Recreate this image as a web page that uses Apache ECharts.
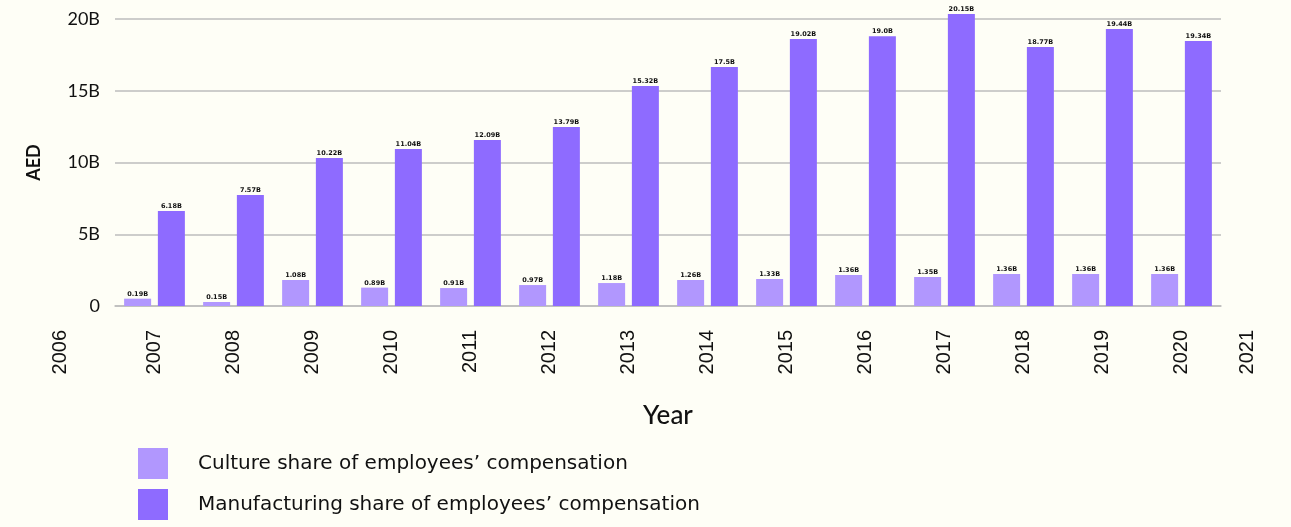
<!DOCTYPE html>
<html>
<head>
<meta charset="utf-8">
<script src="https://cdn.jsdelivr.net/npm/echarts@6/dist/echarts.min.js"></script>
<style>
html,body{margin:0;padding:0;background:#fefef6;}
#chart{width:1291px;height:527px;}
</style>
</head>
<body>
<div id="chart"></div>
<script>
const years = ['2007','2008','2009','2010','2011','2012','2013','2014','2015','2016','2017','2018','2019','2020'];
const edgeYears = [2006, 2021];
// bar heights (billions AED) as drawn
const cultureValues = [0.51, 0.28, 1.81, 1.28, 1.25, 1.46, 1.60, 1.81, 1.88, 2.16, 2.02, 2.23, 2.23, 2.23];
const manufValues = [6.62, 7.73, 10.31, 10.94, 11.57, 12.47, 15.33, 16.66, 18.60, 18.80, 20.35, 18.05, 19.30, 18.47];
// printed labels
const cultureLabels = ['0.19B','0.15B','1.08B','0.89B','0.91B','0.97B','1.18B','1.26B','1.33B','1.36B','1.35B','1.36B','1.36B','1.36B'];
const manufLabels = ['6.18B','7.57B','10.22B','11.04B','12.09B','13.79B','15.32B','17.5B','19.02B','19.0B','20.15B','18.77B','19.44B','19.34B'];
const yTicks = [0, 5, 10, 15, 20];
const seriesNames = ['Culture share of employees\u2019 compensation', 'Manufacturing share of employees\u2019 compensation'];

const chart = echarts.init(document.getElementById('chart'));
const FONT = 'Lato';
const barLabel = (labels) => ({
  show: true, position: 'top', distance: 1,
  fontFamily: 'DejaVu Sans', fontWeight: 'bold', fontSize: 6.5, color: '#111',
  formatter: p => labels[p.dataIndex]
});
chart.setOption({
  backgroundColor: '#fefef6',
  animation: false,
  grid: [
    {left: 115, right: 70, top: 19, bottom: 221},
    {left: 60, right: 43.5, top: 19, bottom: 221}
  ],
  legend: {
    orient: 'vertical', left: 138, top: 448, padding: 0,
    itemWidth: 30, itemHeight: 31, itemGap: 10,
    icon: 'rect',
    textStyle: {fontFamily: 'DejaVu Sans', fontSize: 20, color: '#111', padding: [0,0,0,25]},
    data: seriesNames
  },
  xAxis: [
    {
      type: 'category', gridIndex: 0, data: years,
      axisLine: {show: true, lineStyle: {color: '#bdbdbd', width: 1.5}},
      axisTick: {show: false},
      axisLabel: {rotate: 90, margin: 24, fontFamily: 'Liberation Sans', fontSize: 20, color: '#111'},
      name: 'Year', nameLocation: 'middle', nameGap: 97,
      nameTextStyle: {fontFamily: FONT, fontSize: 26, fontWeight: 500, color: '#111'}
    },
    {
      type: 'value', gridIndex: 1, min: edgeYears[0], max: edgeYears[1], interval: edgeYears[1] - edgeYears[0],
      axisLine: {show: false}, axisTick: {show: false}, splitLine: {show: false},
      axisLabel: {rotate: 90, margin: 24, fontFamily: 'Liberation Sans', fontSize: 20, color: '#111',
        formatter: v => String(v)}
    }
  ],
  yAxis: [
    {
      type: 'value', gridIndex: 0, min: yTicks[0], max: yTicks[yTicks.length-1], interval: yTicks[1]-yTicks[0],
      axisLine: {show: false}, axisTick: {show: false},
      splitLine: {lineStyle: {color: '#bdbdbd', width: 1.5}},
      axisLabel: {margin: 15, fontFamily: FONT, fontSize: 18, color: '#111',
        formatter: v => v === 0 ? '0' : v + 'B'},
      name: 'AED', nameLocation: 'middle', nameGap: 72, nameRotate: 90,
      nameTextStyle: {fontFamily: FONT, fontSize: 18, fontWeight: 'bold', color: '#111'}
    },
    {type: 'value', gridIndex: 1, show: false}
  ],
  series: [
    {
      name: seriesNames[0], type: 'bar', xAxisIndex: 0, yAxisIndex: 0,
      data: cultureValues, barWidth: 27, barGap: '25%', clip: false,
      itemStyle: {color: '#b197fe'},
      label: barLabel(cultureLabels)
    },
    {
      name: seriesNames[1], type: 'bar', xAxisIndex: 0, yAxisIndex: 0,
      data: manufValues, barWidth: 27, barGap: '25%', clip: false,
      itemStyle: {color: '#8e6bff'},
      label: barLabel(manufLabels)
    }
  ]
});
</script>
</body>
</html>
